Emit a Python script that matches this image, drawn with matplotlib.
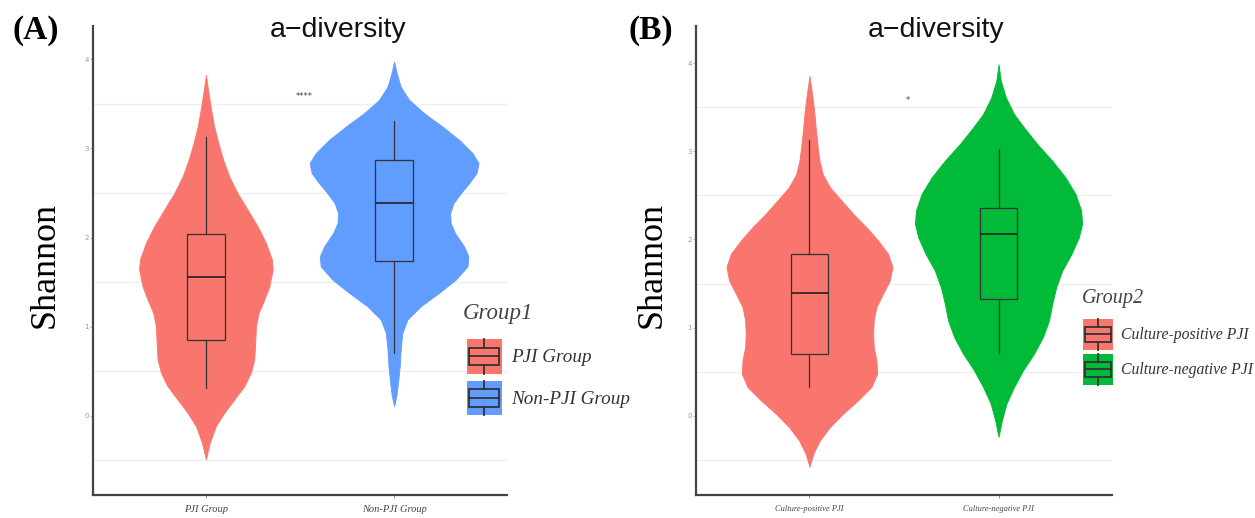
import numpy as np
import matplotlib
matplotlib.use("Agg")
import matplotlib.pyplot as plt
from matplotlib.patches import Rectangle, Patch
from matplotlib.lines import Line2D
from matplotlib.legend_handler import HandlerBase
from matplotlib.font_manager import FontProperties

# ---- data ----
groups_a = ["PJI Group", "Non-PJI Group"]
groups_b = ["Culture-positive PJI", "Culture-negative PJI"]

# violin outlines: Shannon value and half width (x units)
pji_y = [3.824, 3.619, 3.432, 3.245, 3.059, 2.872, 2.686, 2.499, 2.312, 2.126, 1.939, 1.753, 1.641,
         1.454, 1.305, 1.156, 1.006, 0.820, 0.633, 0.484, 0.334, 0.185, 0.036, -0.114, -0.300, -0.487]
pji_w = [0.0, 0.014, 0.028, 0.044, 0.066, 0.092, 0.124, 0.168, 0.222, 0.275, 0.319, 0.351, 0.355,
         0.337, 0.310, 0.280, 0.266, 0.262, 0.257, 0.239, 0.204, 0.151, 0.098, 0.053, 0.021, 0.0]
nonpji_y = [3.973, 3.843, 3.693, 3.544, 3.395, 3.245, 3.096, 2.947, 2.835, 2.723, 2.611, 2.499, 2.387,
            2.275, 2.163, 2.051, 1.901, 1.789, 1.677, 1.529, 1.380, 1.230, 1.081, 0.932, 0.745,
            0.558, 0.372, 0.222, 0.110]
nonpji_w = [0.0, 0.014, 0.035, 0.080, 0.160, 0.257, 0.346, 0.417, 0.449, 0.438, 0.399, 0.355, 0.316,
            0.298, 0.301, 0.324, 0.372, 0.395, 0.390, 0.328, 0.239, 0.142, 0.071, 0.044, 0.035,
            0.030, 0.021, 0.012, 0.0]
cpos_y = [3.854, 3.647, 3.458, 3.269, 3.081, 2.893, 2.742, 2.591, 2.440, 2.290, 2.138, 1.988, 1.837,
          1.686, 1.535, 1.385, 1.233, 1.083, 0.932, 0.781, 0.630, 0.480, 0.328, 0.178, 0.027,
          -0.124, -0.275, -0.425, -0.577]
cpos_w = [0.0, 0.014, 0.025, 0.033, 0.042, 0.053, 0.070, 0.109, 0.170, 0.232, 0.302, 0.363, 0.416,
          0.439, 0.425, 0.389, 0.354, 0.340, 0.337, 0.340, 0.354, 0.358, 0.328, 0.258, 0.179,
          0.109, 0.056, 0.021, 0.0]
cneg_y = [3.986, 3.798, 3.609, 3.421, 3.269, 3.081, 2.893, 2.704, 2.516, 2.327, 2.176, 2.025, 1.837,
          1.648, 1.459, 1.271, 1.083, 0.894, 0.706, 0.517, 0.328, 0.140, -0.049, -0.238]
cneg_w = [0.0, 0.012, 0.039, 0.082, 0.135, 0.205, 0.284, 0.354, 0.407, 0.437, 0.442, 0.425, 0.386,
          0.337, 0.305, 0.284, 0.267, 0.235, 0.188, 0.130, 0.082, 0.042, 0.018, 0.0]

# box stats: whisker low, q1, median, q3, whisker high
pji_box = [0.31, 0.85, 1.56, 2.04, 3.13]
nonpji_box = [0.70, 1.74, 2.39, 2.87, 3.31]
cpos_box = [0.33, 0.70, 1.39, 1.84, 3.13]
cneg_box = [0.71, 1.32, 2.06, 2.36, 3.03]

sig_a = "****"
sig_b = "*"

RED = "#F8766D"
BLUE = "#619CFF"
GREEN = "#00BA38"
SERIF = "Liberation Serif"
SANS = "Liberation Sans"

W, H = 1255, 518


class BoxKey(HandlerBase):
    def create_artists(self, legend, orig_handle, xdescent, ydescent,
                       width, height, fontsize, trans):
        c = orig_handle.get_facecolor()
        x0, y0 = -xdescent, -ydescent
        kw = dict(color="#333333", lw=1.3, transform=trans)
        bg = Rectangle((x0, y0), width, height, facecolor=c, edgecolor="none", transform=trans)
        box = Rectangle((x0 + 0.07 * width, y0 + 0.25 * height), 0.86 * width, 0.5 * height,
                        facecolor="none", edgecolor="#333333", lw=1.3, transform=trans)
        med = Line2D([x0 + 0.07 * width, x0 + 0.93 * width], [y0 + 0.5 * height] * 2, **kw)
        w1 = Line2D([x0 + width / 2] * 2, [y0 + 0.75 * height, y0 + height], **kw)
        w2 = Line2D([x0 + width / 2] * 2, [y0, y0 + 0.25 * height], **kw)
        return [bg, box, med, w1, w2]


def panel(ax, groups, shapes, boxes, colors, ylim, sig, xfs):
    for i, ((yy, ww), col) in enumerate(zip(shapes, colors)):
        yy = np.array(yy)
        ww = np.array(ww)
        ax.fill_betweenx(yy, i + 1 - ww, i + 1 + ww, color=col, lw=0.6, edgecolor=col, zorder=2)
    stats = [dict(whislo=b[0], q1=b[1], med=b[2], q3=b[3], whishi=b[4], fliers=[]) for b in boxes]
    bp = ax.bxp(stats, positions=[1, 2], widths=0.2, patch_artist=True, showcaps=False,
                boxprops=dict(edgecolor="#333333", lw=0.9),
                medianprops=dict(color="#222222", lw=1.2),
                whiskerprops=dict(color="#333333", lw=0.9), zorder=3)
    for patch, col in zip(bp["boxes"], colors):
        patch.set_facecolor(col)
    ax.text(1.52, 3.58, sig, ha="center", va="center", fontsize=6, color="#444444")

    ax.set_xlim(0.4, 2.6)
    ax.set_ylim(*ylim)
    ax.set_xticks([1, 2])
    ax.set_xticklabels(groups, fontfamily=SERIF, fontstyle="italic", fontsize=xfs, color="#444444")
    ax.set_yticks([0, 1, 2, 3, 4])
    ax.set_yticklabels(["0", "1", "2", "3", "4"], fontsize=5, color="#999999")
    for v in [-0.5, 0.5, 1.5, 2.5, 3.5]:
        ax.axhline(v, color="#eeeeee", lw=1, zorder=0)
    ax.tick_params(axis="y", length=2, width=0.6, color="#aaaaaa", pad=1)
    ax.tick_params(axis="x", length=2, width=0.6, color="#777777", pad=5)
    for s in ["top", "right"]:
        ax.spines[s].set_visible(False)
    for s in ["left", "bottom"]:
        ax.spines[s].set_color("#444444")
        ax.spines[s].set_linewidth(1.6)


fig = plt.figure(figsize=(W / 100, H / 100), dpi=100)
axA = fig.add_axes([93 / W, 1 - 495 / H, (507 - 93) / W, (495 - 26) / H])
axB = fig.add_axes([696 / W, 1 - 495 / H, (1112 - 696) / W, (495 - 26) / H])

panel(axA, groups_a, [(pji_y, pji_w), (nonpji_y, nonpji_w)], [pji_box, nonpji_box],
      [RED, BLUE], (-0.887, 4.373), sig_a, 7.5)
panel(axB, groups_b, [(cpos_y, cpos_w), (cneg_y, cneg_w)], [cpos_box, cneg_box],
      [RED, GREEN], (-0.897, 4.42), sig_b, 6)

# titles and labels
for x, lab in [(12, "(A)"), (628, "(B)")]:
    fig.text(x / W, 1 - 30 / H, lab, ha="left", va="center", fontsize=24,
             fontweight="bold", fontfamily=SERIF)
for x in [338, 936]:
    fig.text(x / W, 1 - 30 / H, "a\u2212diversity", ha="center", va="center",
             fontsize=20.5, fontfamily=SANS, color="#111111")
for x in [45, 652]:
    fig.text(x / W, 1 - 265 / H, "Shannon", ha="center", va="center", rotation=90,
             fontsize=26, fontfamily=SERIF)

# legends (title drawn separately so the gap to the keys can be set)
fig.text(463 / W, 1 - 313 / H, "Group1", ha="left", va="center", fontsize=16.5,
         fontfamily=SERIF, fontstyle="italic", color="#444444")
fig.text(1082 / W, 1 - 299 / H, "Group2", ha="left", va="center", fontsize=14.5,
         fontfamily=SERIF, fontstyle="italic", color="#444444")

legA = fig.legend([Patch(facecolor=RED), Patch(facecolor=BLUE)], groups_a,
                  handler_map={Patch: BoxKey()}, loc="upper left",
                  bbox_to_anchor=(467 / W, 1 - 339 / H), bbox_transform=fig.transFigure,
                  frameon=False, borderpad=0, borderaxespad=0,
                  prop=FontProperties(family=SERIF, style="italic", size=13.8),
                  handlelength=1.8, handleheight=2.4, handletextpad=0.48, labelspacing=0.37)
legB = fig.legend([Patch(facecolor=RED), Patch(facecolor=GREEN)], groups_b,
                  handler_map={Patch: BoxKey()}, loc="upper left",
                  bbox_to_anchor=(1083 / W, 1 - 319 / H), bbox_transform=fig.transFigure,
                  frameon=False, borderpad=0, borderaxespad=0,
                  prop=FontProperties(family=SERIF, style="italic", size=11.3),
                  handlelength=1.9, handleheight=2.64, handletextpad=0.52, labelspacing=0.26)
for leg in (legA, legB):
    for t in leg.get_texts():
        t.set_color("#333333")

fig.savefig("out.png", dpi=100)
